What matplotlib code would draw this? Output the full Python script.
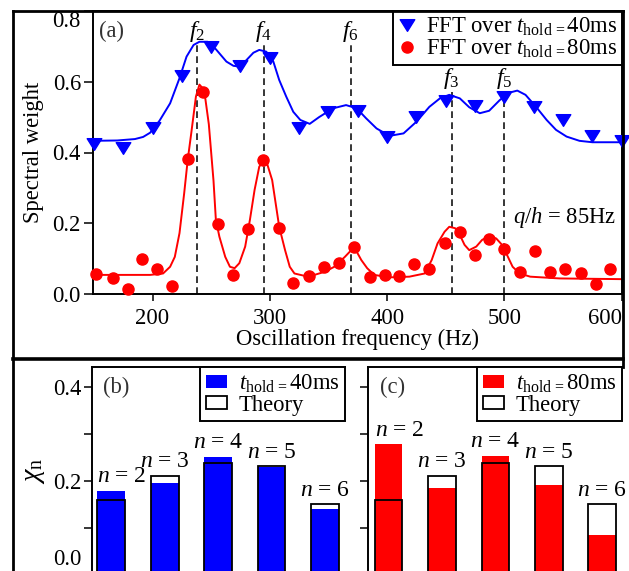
import matplotlib
matplotlib.use("Agg")
import matplotlib.pyplot as plt
from matplotlib.lines import Line2D
from matplotlib.patches import Patch
from matplotlib.path import Path

plt.rcParams['font.family'] = ['Liberation Serif', 'DejaVu Serif']
plt.rcParams['mathtext.fontset'] = 'custom'
plt.rcParams['mathtext.rm'] = 'Liberation Serif'
plt.rcParams['mathtext.it'] = 'Liberation Serif:italic'
plt.rcParams['mathtext.bf'] = 'Liberation Serif:bold'

# ---------------- data: panel (a) ----------------
blue_freq = [150, 175, 200, 225, 250, 275, 300, 325, 350, 375, 400, 425,
             450, 475, 500, 525, 550, 575, 600]
blue_val = [0.424, 0.412, 0.468, 0.616, 0.699, 0.645, 0.668, 0.470, 0.514,
            0.517, 0.443, 0.501, 0.546, 0.531, 0.556, 0.530, 0.492, 0.447, 0.433]

red_freq = [152, 166, 179, 191, 204, 217, 230, 243, 256, 269, 281, 294, 308,
            320, 333, 346, 359, 372, 385, 398, 410, 423, 436, 449, 462, 475,
            487, 500, 513, 526, 539, 552, 565, 578, 590]
red_val = [0.057, 0.046, 0.013, 0.098, 0.071, 0.023, 0.382, 0.572, 0.197,
           0.054, 0.183, 0.378, 0.186, 0.030, 0.051, 0.077, 0.089, 0.134,
           0.049, 0.053, 0.051, 0.085, 0.070, 0.143, 0.176, 0.110, 0.155,
           0.126, 0.061, 0.122, 0.063, 0.070, 0.060, 0.028, 0.071]

# fitted curves
blue_fit_f = [149, 170, 185, 192, 198, 206, 215, 223, 229, 235, 240, 247,
              254, 263, 269, 274, 280, 286, 291, 297, 303, 308, 314, 320,
              326, 334, 342, 354, 365, 374, 382, 391, 402, 414, 425, 436,
              445, 453, 462, 470, 479, 487, 496, 504, 511, 518, 527, 536,
              544, 553, 564, 575, 600]
blue_fit_v = [0.433, 0.434, 0.438, 0.444, 0.456, 0.490, 0.539, 0.610, 0.671,
              0.704, 0.713, 0.713, 0.692, 0.657, 0.645, 0.643, 0.661, 0.682,
              0.690, 0.685, 0.657, 0.605, 0.558, 0.515, 0.492, 0.481, 0.500,
              0.525, 0.534, 0.525, 0.497, 0.468, 0.447, 0.454, 0.487, 0.529,
              0.553, 0.563, 0.553, 0.528, 0.511, 0.518, 0.548, 0.569, 0.575,
              0.563, 0.529, 0.492, 0.464, 0.445, 0.433, 0.429, 0.429]

red_fit_f = [149, 198, 209, 215, 219, 223, 227, 230, 233, 237, 240, 244, 248,
             252, 254, 257, 262, 266, 270, 274, 279, 283, 287, 291, 295, 298,
             302, 305, 308, 313, 317, 321, 330, 338, 347, 355, 364, 370, 374,
             378, 383, 389, 402, 419, 432, 438, 443, 449, 453, 458, 462, 466,
             470, 476, 481, 487, 493, 498, 503, 507, 513, 522, 547, 600]
red_fit_v = [0.054, 0.054, 0.058, 0.077, 0.105, 0.172, 0.285, 0.379, 0.454,
             0.558, 0.592, 0.577, 0.480, 0.320, 0.210, 0.162, 0.105, 0.077,
             0.073, 0.087, 0.134, 0.209, 0.294, 0.360, 0.378, 0.365, 0.322,
             0.256, 0.190, 0.124, 0.077, 0.058, 0.051, 0.054, 0.063, 0.077,
             0.105, 0.126, 0.120, 0.096, 0.073, 0.054, 0.047, 0.049, 0.058,
             0.096, 0.143, 0.176, 0.190, 0.186, 0.167, 0.139, 0.124, 0.134,
             0.153, 0.164, 0.157, 0.139, 0.105, 0.077, 0.058, 0.049, 0.044,
             0.042]

peak_names = ['$f_2$', '$f_4$', '$f_6$', '$f_3$', '$f_5$']
peak_freqs = [238, 295, 369, 455, 500]
peak_tops = [0.705, 0.705, 0.705, 0.572, 0.572]

x_ticks = [200, 300, 400, 500, 600]
y_ticks_a = [0.0, 0.2, 0.4, 0.6, 0.8]

# ---------------- data: panels (b), (c) ----------------
n_vals = [2, 3, 4, 5, 6]
chi_40 = [0.179, 0.195, 0.252, 0.230, 0.140]
chi_80 = [0.278, 0.186, 0.254, 0.191, 0.085]
chi_theory = [0.159, 0.211, 0.238, 0.231, 0.150]

W, H = 629, 571
fig = plt.figure(figsize=(W / 100, H / 100), dpi=100)


def fx(px):
    return px / W


def fy(py):
    return 1 - py / H


FS = 16.3
BLUE = '#0000ff'
RED = '#ff0000'

# ---------------- panel (a) ----------------
ax = fig.add_axes([fx(92.7), fy(294), fx(621.7) - fx(92.7), fy(11) - fy(294)])
ax.set_xlim(149, 600)
ax.set_ylim(0, 0.8)
for s in ax.spines.values():
    s.set_linewidth(1.4)
ax.tick_params(axis='x', direction='out', length=5, width=1.1, labelsize=FS, pad=5)
ax.tick_params(axis='y', direction='out', length=6.5, width=1.1, labelsize=FS, pad=2)
ax.set_xticks(x_ticks)
ax.set_xticklabels([str(v) for v in x_ticks])
ax.set_yticks(y_ticks_a)
ax.set_yticklabels(['%.1f' % v for v in y_ticks_a])
ax.get_yticklabels()[-1].set_va('top')
ax.get_xticklabels()[-1].set_ha('right')

for f, top, name in zip(peak_freqs, peak_tops, peak_names):
    ax.plot([f, f], [0, top], color='black', lw=1.1, ls=(0, (4.4, 2.8)), zorder=1)
    ax.text(f, top + 0.038, name, ha='center', va='center', fontsize=FS + 1)

tri = [(-1.0, 0.8), (1.0, 0.8), (0.0, -0.8), (-1.0, 0.8)]
tri_marker = Path(tri, [Path.MOVETO, Path.LINETO, Path.LINETO, Path.CLOSEPOLY])

ax.plot(blue_fit_f, blue_fit_v, color=BLUE, lw=1.4, zorder=2)
ax.plot(red_fit_f, red_fit_v, color=RED, lw=1.4, zorder=2)
ax.plot(blue_freq, blue_val, ls='none', marker=tri_marker, ms=10.5, color=BLUE,
        mec=BLUE, zorder=3, clip_on=False)
ax.plot(red_freq, red_val, ls='none', marker='o', ms=8, color=RED, mec=RED,
        zorder=3, clip_on=False)

ax.set_xlabel('Oscillation frequency (Hz)', fontsize=FS, labelpad=0)
ax.set_ylabel('Spectral weight', fontsize=FS, labelpad=6)
ax.text(0.012, 0.928, '(a)', transform=ax.transAxes, fontsize=FS, color='#333333',
        ha='left', va='center')
ax.text(0.99, 0.27, r'$q/h$ = 85Hz', transform=ax.transAxes, fontsize=FS,
        ha='right', va='center')

h1 = Line2D([], [], ls='none', marker=tri_marker, ms=10.5, color=BLUE)
h2 = Line2D([], [], ls='none', marker='o', ms=8, color=RED)
leg = ax.legend([h1, h2],
                [r'FFT over $t_{\mathrm{hold}\,=}$40ms', r'FFT over $t_{\mathrm{hold}\,=}$80ms'],
                loc='upper right', bbox_to_anchor=(1, 1), borderaxespad=0,
                fontsize=FS, frameon=True, fancybox=False, framealpha=1,
                edgecolor='black', handlelength=0.8, handletextpad=0.45,
                labelspacing=0.0, borderpad=0.2)
leg.get_frame().set_linewidth(1.4)

# ---------------- panels (b), (c) ----------------
ylim_b = (0, 0.444)
y_ticks_b = [0.0, 0.1, 0.2, 0.3, 0.4]
TICK_LEN_B = 5.5
TICK_PAD_B = 2


def bar_panel(left_px, right_px, xlim, vals, color, tag, label, show_labels):
    a = fig.add_axes([fx(left_px), fy(574.6), fx(right_px) - fx(left_px),
                      fy(366.7) - fy(574.6)])
    a.set_xlim(*xlim)
    a.set_ylim(*ylim_b)
    a.spines['right'].set_visible(False)
    for s in a.spines.values():
        s.set_linewidth(1.4)
    a.set_xticks([])
    a.set_yticks(y_ticks_b)
    if show_labels:
        a.set_yticklabels(['', '', '0.2', '', '0.4'])
        a.annotate('0.0', xy=(0, y_ticks_b[0]), xycoords=('axes fraction', 'data'),
                   xytext=(-(TICK_LEN_B + TICK_PAD_B), 3.5),
                   textcoords='offset points', ha='right', va='bottom',
                   fontsize=FS, annotation_clip=False)
    else:
        a.set_yticklabels([])
    a.tick_params(axis='y', direction='out', length=TICK_LEN_B, width=1.1,
                  labelsize=FS, pad=TICK_PAD_B)
    wbar = 0.52
    a.bar(n_vals, vals, width=wbar, color=color, edgecolor='none', zorder=2)
    a.bar(n_vals, chi_theory, width=wbar, facecolor='none', edgecolor='black',
          lw=1.3, zorder=3)
    for nn, v, t in zip(n_vals, vals, chi_theory):
        top = max(v, t)
        if nn == n_vals[0]:
            xx, ha = nn - wbar / 2, 'left'
        else:
            xx, ha = nn, 'center'
        a.annotate(r'$n$ = %d' % nn, (xx, top), xytext=(0, 6),
                   textcoords='offset points', ha=ha, va='baseline',
                   fontsize=FS + 0.7)
    a.text(0.045, 0.9, tag, transform=a.transAxes, fontsize=FS, color='#333333',
           ha='left', va='center')
    hh = [Patch(facecolor=color, edgecolor='none'),
          Patch(facecolor='white', edgecolor='black', lw=1.3)]
    lg = a.legend(hh, [label, 'Theory'], loc='upper right', bbox_to_anchor=(1, 1),
                  borderaxespad=0, fontsize=FS, frameon=True, fancybox=False,
                  framealpha=1, edgecolor='black', handlelength=0.95,
                  handleheight=0.5, handletextpad=0.5, labelspacing=0.0,
                  borderpad=0.25)
    lg.get_frame().set_linewidth(1.4)
    return a


axb = bar_panel(91.7, 345, (1.635, 6.374), chi_40, BLUE, '(b)',
                r'$t_{\mathrm{hold}\,=}$40ms', True)
axb.set_ylabel(r'$\chi_{\mathrm{n}}$', fontsize=FS + 4, labelpad=4)
axc = bar_panel(368.3, 622, (1.62, 6.37), chi_80, RED, '(c)',
                r'$t_{\mathrm{hold}\,=}$80ms', False)

# ---------------- outer frames ----------------
lwf = 2.0
fig.add_artist(Line2D([fx(12.7), fx(12.7)], [fy(11), -0.05], color='black', lw=lwf))
fig.add_artist(Line2D([fx(12.7), fx(623)], [fy(11), fy(11)], color='black', lw=lwf))
fig.add_artist(Line2D([fx(623), fx(623)], [fy(11), fy(367)], color='black', lw=lwf))
fig.add_artist(Line2D([fx(12.7), fx(623)], [fy(359), fy(359)], color='black', lw=lwf + 0.6))

fig.savefig('out.png', dpi=100)
